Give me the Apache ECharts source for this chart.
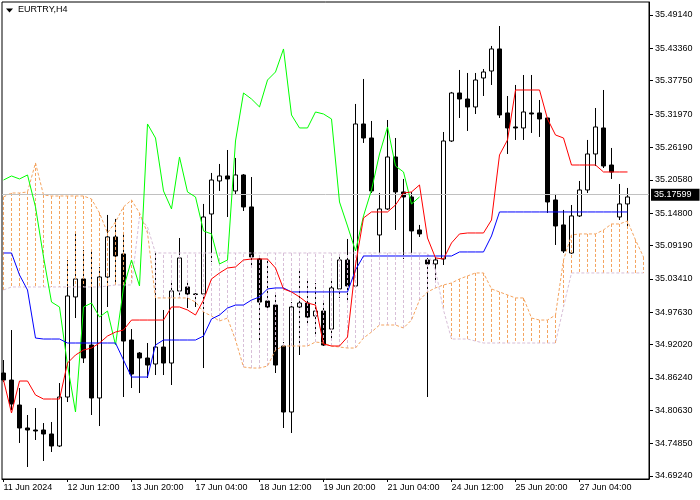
<!DOCTYPE html>
<html><head><meta charset="utf-8">
<script src="https://cdn.jsdelivr.net/npm/echarts@6/dist/echarts.min.js"></script>
<style>html,body{margin:0;padding:0;background:#fff}#c{width:700px;height:500px}</style>
</head><body><div id="c"></div>
<script>
// ---- data (bar index 0 = 11 Jun 2024, H4 bars) ----
const opens = [34.8709,34.8587,34.8154,34.7756,34.7721,34.7721,34.7652,34.7444,34.8293,35.0027,
35.0339,34.9194,34.8276,35.0373,35.1067,35.0772,34.9281,34.9055,34.8969,34.8865,
34.9159,34.8882,35.0131,35.0200,35.0079,35.0079,35.1465,35.2037,35.2124,35.1864,
35.2141,35.1587,35.0685,34.9957,34.9887,34.9177,34.8033,34.9853,34.9922,34.9697,
34.9783,34.9471,35.0166,35.0668,35.0217,35.3025,35.2782,35.1101,35.1552,35.2453,
35.1847,35.1760,35.1188,35.0668,35.0599,35.0685,35.2730,35.3562,35.3458,35.3320,
35.3822,35.3943,35.4325,35.3216,35.2973,35.2956,35.3216,35.3216,35.3129,35.1708,
35.1275,35.0789,35.1431,35.1881,35.2505,35.2956,35.2314,35.1413,35.1639];
const closes = [34.8587,34.8172,34.7756,34.7721,34.7704,34.7652,34.7444,34.8293,35.0044,35.0339,
34.8969,34.8276,35.0373,35.1067,35.0737,34.9263,34.8691,34.8969,34.8847,34.9159,
34.8882,35.0131,35.0703,35.0079,35.0070,35.1413,35.2054,35.2124,35.2072,35.2141,
35.1587,35.0720,34.9939,34.9853,34.8847,34.8033,34.9853,34.9922,34.9679,34.9783,
34.9194,35.0183,35.0668,35.0217,35.3025,35.2782,35.1864,35.1552,35.2453,35.1847,
35.1760,35.1171,35.1119,35.0599,35.0668,35.2730,35.3562,35.3458,35.3320,35.3787,
35.3926,35.4325,35.3181,35.2956,35.2956,35.3233,35.3198,35.3112,35.1673,35.1257,
35.0824,35.1431,35.1881,35.2505,35.2973,35.2297,35.2193,35.1639,35.17599];
const lows = [34.8553,34.8068,34.7496,34.7080,34.7548,34.7184,34.7340,34.7426,34.8206,34.9662,
34.8882,34.7981,34.7790,34.9853,35.0235,34.8293,34.8449,34.8362,34.8622,34.8674,
34.8674,34.8501,35.0027,34.9835,34.9853,34.8795,35.0633,35.1864,35.1413,35.1795,
35.1517,35.0529,34.9229,34.9818,34.8709,34.7756,34.7669,34.9021,34.9523,34.9385,
34.9177,34.9315,35.0010,34.9922,35.0200,35.2696,35.1829,35.0755,35.1535,35.1188,
35.0685,35.0789,35.1067,34.8293,35.0321,35.0581,35.2713,35.3129,35.2904,35.3198,
35.3510,35.3701,35.3129,35.2505,35.2748,35.2748,35.2869,35.2800,35.1483,35.0928,
35.0789,35.0772,35.1413,35.1829,35.2297,35.2262,35.2072,35.1361,35.1257];
const highs = [34.8934,34.9454,34.8449,34.7981,34.8102,34.7842,34.7860,34.8535,35.0668,35.1136,
35.0841,35.0841,35.0547,35.1448,35.1379,35.1153,34.9471,34.9073,34.9229,35.0789,
34.9801,35.0269,35.1049,35.0287,35.0096,35.1639,35.2176,35.2332,35.2574,35.2436,
35.2158,35.2106,35.0737,35.0668,35.0096,34.9246,34.9939,35.0512,35.0321,35.0269,
34.9939,35.0304,35.0755,35.1032,35.3372,35.3805,35.3077,35.1829,35.3094,35.2782,
35.2072,35.1847,35.1275,35.0703,35.0720,35.2886,35.3580,35.3961,35.3909,35.3909,
35.3978,35.4377,35.4723,35.3510,35.3701,35.3874,35.3874,35.3441,35.3129,35.1812,
35.1535,35.1621,35.2037,35.2748,35.3302,35.3614,35.2609,35.1985,35.1916];
const tenkan = [34.8587,34.8016,34.8570,34.8570,34.8328,34.8258,34.8258,34.8258,34.8882,34.9021,
34.9107,34.9142,34.9229,34.9350,34.9419,34.9454,34.9627,34.9627,34.9627,34.9627,
34.9627,34.9853,34.9853,34.9801,34.9714,34.9974,35.0339,35.0443,35.0529,35.0547,
35.0668,35.0685,35.0685,35.0685,35.0529,35.0166,35.0114,35.0027,34.9922,34.9887,
34.9211,34.9177,34.9177,34.9333,35.0581,35.1396,35.1500,35.1500,35.1500,35.1621,
35.1829,35.1847,35.1968,35.1049,35.0703,35.0685,35.0963,35.1119,35.1136,35.1136,
35.1136,35.1361,35.2488,35.2748,35.3614,35.3614,35.3614,35.3614,35.3112,35.2834,
35.2782,35.2314,35.2314,35.2314,35.2314,35.2193,35.2193,35.2193,35.2193];
const kijun = [35.0789,35.0789,35.0408,35.0148,34.9315,34.9298,34.9298,34.9298,34.9229,34.9229,
34.9229,34.9229,34.9229,34.9229,34.9229,34.8934,34.8639,34.8639,34.8639,34.9194,
34.9281,34.9281,34.9281,34.9281,34.9281,34.9350,34.9645,34.9714,34.9835,34.9887,
34.9887,34.9974,35.0027,35.0166,35.0183,35.0183,35.0114,35.0114,35.0114,35.0114,
35.0114,35.0114,35.0114,35.0114,35.0495,35.0737,35.0737,35.0737,35.0737,35.0737,
35.0737,35.0737,35.0737,35.0737,35.0737,35.0737,35.0737,35.0807,35.0807,35.0807,
35.0807,35.1084,35.1500,35.1500,35.1500,35.1500,35.1500,35.1500,35.1500,35.1500,
35.1500,35.1500,35.1500,35.1500,35.1500,35.1500,35.1500,35.1500,35.1500];
const senkouA = [35.1760,35.1829,35.1829,35.1847,35.2349,35.1795,35.1777,35.1777,35.1777,35.1777,
35.1777,35.1725,35.1483,35.1136,35.1327,35.1587,35.1708,35.1483,35.1136,35.0010,
35.0010,35.0010,35.0010,35.0010,34.9939,34.9766,34.9697,34.9610,34.9662,34.9281,
34.8813,34.8795,34.8795,34.8830,34.9107,34.9177,34.9177,34.9177,34.9177,34.9246,
34.9229,34.9177,34.9159,34.9142,34.9142,34.9315,34.9419,34.9541,34.9541,34.9541,
34.9489,34.9627,34.9974,35.0114,35.0183,35.0235,35.0269,35.0339,35.0391,35.0443,
35.0443,35.0166,35.0114,35.0062,35.0010,35.0010,34.9662,34.9627,34.9627,34.9714,
35.0668,35.1101,35.1119,35.1119,35.1119,35.1188,35.1292,35.1292,35.1344,35.1015,
35.0720];
const senkouB = [35.0148,35.0200,35.0200,35.0200,35.0200,35.0200,35.0200,35.0200,35.0200,35.0200,
35.0200,35.0200,35.0200,35.0217,35.0235,35.0235,35.0235,35.1413,35.1240,35.0789,
35.0789,35.0789,35.0789,35.0789,35.0789,35.0789,35.0789,35.0789,35.0789,35.0789,
35.0789,35.0789,35.0789,35.0789,35.0789,35.0789,35.0789,35.0789,35.0789,35.0789,
35.0789,35.0789,35.0789,35.0789,35.0789,35.0789,35.0789,35.0789,35.0789,35.0789,
35.0789,35.0789,35.0789,35.0789,35.0495,34.9801,34.9298,34.9298,34.9298,34.9263,
34.9229,34.9229,34.9229,34.9229,34.9229,34.9229,34.9229,34.9229,34.9229,34.9229,
34.9853,35.0443,35.0443,35.0443,35.0443,35.0443,35.0443,35.0443,35.0443,35.0443,
35.0443];
const chikouShift = 26;
const xTickIndex = [0,8,16,24,32,40,48,56,64,72];
const xTickLabels = ['11 Jun 2024','12 Jun 12:00','13 Jun 20:00','17 Jun 04:00','18 Jun 12:00',
  '19 Jun 20:00','21 Jun 04:00','24 Jun 12:00','25 Jun 20:00','27 Jun 04:00'];
const yTickValues = [34.6924,34.7485,34.8063,34.8624,34.9202,34.9763,35.0341,35.0919,
  35.1480,35.2058,35.2619,35.3197,35.3775,35.4336,35.4914];
const currentPrice = 35.17599;
const symbolTitle = 'EURTRY,H4';

// ---- build ----
const candleData = opens.map((o, i) => [i, o, closes[i], lows[i], highs[i]]);
const toXY = arr => arr.map((v, i) => [i, v]);
const chikou = closes.slice(chikouShift).map((v, i) => [i, v]);
const cloud = senkouA.map((a, i) => [i, a, senkouB[i]]);

const FONT = 'Liberation Sans';
const ORANGE = '#F4A460', THISTLE = '#D8BFD8';
const chart = echarts.init(document.getElementById('c'), null, {renderer: 'canvas'});
chart.setOption({
  animation: false,
  backgroundColor: '#fff',
  textStyle: {fontFamily: FONT},
  title: {text: symbolTitle, left: 18, top: 5, padding: 0,
    textStyle: {fontSize: 9, fontWeight: 'normal', color: '#000', fontFamily: FONT}},
  graphic: [{type: 'polygon', z: 100, shape: {points: [[6, 8.5], [13, 8.5], [9.5, 12.5]]}, style: {fill: '#000'}}],
  grid: {left: 2, right: 51, top: 2, bottom: 21, show: true, borderColor: '#000', borderWidth: 1,
    backgroundColor: '#fff', outerBoundsMode: 'none', containLabel: false},
  xAxis: {
    type: 'value', min: -0.1875, max: 80.6875, splitLine: {show: false},
    axisLine: {show: true, onZero: false, lineStyle: {color: '#000', width: 1}},
    axisTick: {show: true, customValues: xTickIndex, length: 3, lineStyle: {color: '#000'}},
    axisLabel: {customValues: xTickIndex, formatter: v => xTickLabels[xTickIndex.indexOf(Math.round(v))],
      align: 'left', color: '#000', fontSize: 9, margin: 4, fontFamily: FONT}
  },
  yAxis: {
    type: 'value', position: 'right', min: 34.6872, max: 35.5139, splitLine: {show: false},
    axisLine: {show: true, onZero: false, lineStyle: {color: '#000', width: 1}},
    axisTick: {show: true, customValues: yTickValues, length: 4, lineStyle: {color: '#000'}},
    axisLabel: {customValues: yTickValues, formatter: v => v.toFixed(5), color: '#000',
      fontSize: 9, margin: 6, fontFamily: FONT}
  },
  series: [
    {type: 'line', data: [], z: 1, silent: true,
      markLine: {symbol: ['none', 'none'], silent: true, animation: false,
        lineStyle: {color: '#C0C0C0', type: 'solid', width: 1},
        label: {show: true, position: 'end', formatter: currentPrice.toFixed(5), distance: 2,
          backgroundColor: '#000', color: '#fff', fontSize: 9, fontFamily: FONT, padding: [2, 8, 1, 3]},
        data: [{yAxis: currentPrice}]}},
    {type: 'candlestick', data: candleData, encode: {x: 0, y: [1, 2, 3, 4]}, barWidth: 5, z: 2,
      itemStyle: {color: '#fff', color0: '#000', borderColor: '#000', borderColor0: '#000', borderWidth: 1}},
    {type: 'custom', data: cloud, encode: {x: 0, y: [1, 2]}, z: 3, silent: true, clip: true,
      renderItem: (params, api) => {
        const i = api.value(0), a = api.value(1), b = api.value(2);
        const p1 = api.coord([i, a]), p2 = api.coord([i, b]);
        return {type: 'line', shape: {x1: p1[0], y1: p1[1], x2: p2[0], y2: p2[1]},
          style: {stroke: a >= b ? ORANGE : THISTLE, lineWidth: 1, lineDash: [3, 2]}};
      }},
    {type: 'line', data: toXY(senkouA), symbol: 'none', z: 4, silent: true,
      lineStyle: {color: ORANGE, width: 1, type: [3, 2]}},
    {type: 'line', data: toXY(senkouB), symbol: 'none', z: 4, silent: true,
      lineStyle: {color: THISTLE, width: 1, type: [3, 2]}},
    {type: 'line', data: chikou, symbol: 'none', z: 5, silent: true, lineStyle: {color: '#00FF00', width: 1}},
    {type: 'line', data: toXY(kijun), symbol: 'none', z: 5, silent: true, lineStyle: {color: '#0000FF', width: 1}},
    {type: 'line', data: toXY(tenkan), symbol: 'none', z: 5, silent: true, lineStyle: {color: '#FF0000', width: 1}}
  ]
});
</script></body></html>
